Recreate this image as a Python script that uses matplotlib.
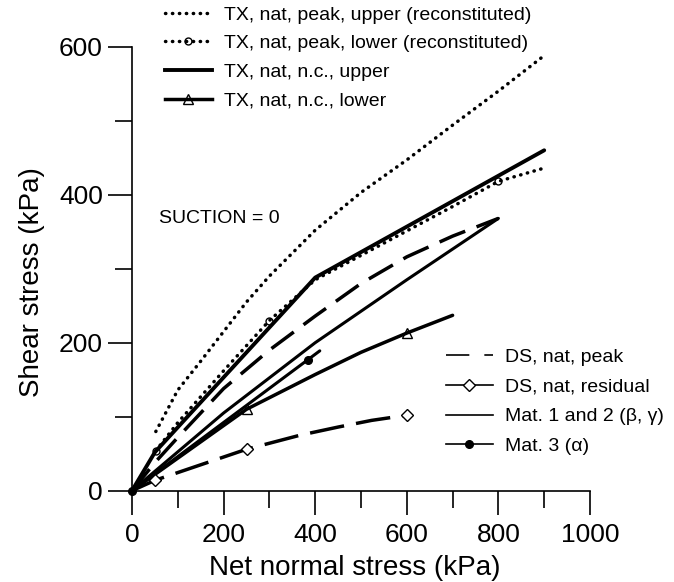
import matplotlib
matplotlib.use("Agg")
import matplotlib.pyplot as plt
from matplotlib.lines import Line2D
from matplotlib.ticker import MultipleLocator

plt.rcParams['font.family'] = ['Liberation Sans', 'DejaVu Sans']

# Shear strength envelopes, suction = 0 (net normal stress / shear stress, kPa)
tx_peak_up_x = [52, 100, 150, 200, 250, 300, 400, 500, 600, 700, 800, 900]
tx_peak_up_y = [80, 136, 175, 215, 255, 290, 352, 403, 447, 494, 540, 588]

tx_peak_lo_x = [52, 100, 200, 300, 400, 500, 600, 700, 800, 900]
tx_peak_lo_y = [54, 92, 162, 230, 285, 318, 351, 384, 418, 436]

tx_nc_up_x = [0, 50, 400, 900]
tx_nc_up_y = [0, 52, 288, 460]

tx_nc_lo_x = [0, 250, 400, 500, 600, 700]
tx_nc_lo_y = [0, 110, 157, 187, 213, 237]

ds_peak_x = [0, 50, 100, 200, 300, 400, 500, 600, 700, 800]
ds_peak_y = [0, 38, 72, 138, 190, 236, 280, 316, 344, 368]

ds_res_x = [0, 50, 250, 367, 450, 523, 600]
ds_res_y = [0, 14, 56, 75, 86, 95, 102]

mat12_x = [0, 200, 400, 600, 800]
mat12_y = [0, 105, 200, 285, 368]

mat3_x = [0, 384, 410]
mat3_y = [0, 177, 189]

top_labels = ["TX, nat, peak, upper (reconstituted)",
              "TX, nat, peak, lower (reconstituted)",
              "TX, nat, n.c., upper",
              "TX, nat, n.c., lower"]
bottom_labels = ["DS, nat, peak",
                 "DS, nat, residual",
                 "Mat. 1 and 2 (\u03b2, \u03b3)",
                 "Mat. 3 (\u03b1)"]

W, H = 674, 582
fig = plt.figure(figsize=(W / 100, H / 100), dpi=100)
ax = fig.add_axes([132 / W, 1 - 490.7 / H, 458 / W, 444 / H])

dot = (0, (0.1, 1.9))
lw = 2.5
common = dict(color='black', clip_on=False, solid_capstyle='round')

ax.plot(tx_peak_up_x, tx_peak_up_y, lw=lw, linestyle=dot,
        dash_capstyle='round', **common)
ax.plot(tx_peak_lo_x, tx_peak_lo_y, lw=lw, linestyle=dot,
        dash_capstyle='round', marker='o', ms=5, mfc='none', mew=1.0,
        markevery=[0, 3, 8], **common)
ax.plot(tx_nc_up_x, tx_nc_up_y, lw=2.8, **common)
ax.plot(tx_nc_lo_x, tx_nc_lo_y, lw=2.5, marker='^', ms=7, mfc='none',
        mew=1.0, markevery=[1, 4], **common)
ax.plot(ds_peak_x, ds_peak_y, lw=2.5, linestyle=(0, (8, 3.5)), **common)
ax.plot(ds_res_x, ds_res_y, lw=2.5, linestyle=(0, (10, 3.5)), **common)
ax.plot(ds_res_x[1:3] + [ds_res_x[-1]], ds_res_y[1:3] + [ds_res_y[-1]],
        linestyle='none', marker='D', ms=6.5, mfc='white', mec='black',
        mew=1.0, clip_on=False)
ax.plot(mat12_x, mat12_y, lw=2.2, **common)
ax.plot(mat3_x, mat3_y, lw=2.2, marker='o', ms=5.5, markevery=[0, 1],
        **common)

ax.text(60, 368, "SUCTION = 0", fontsize=14, va='center', ha='left')

# Axes styling
ax.set_xlim(0, 1000)
ax.set_ylim(0, 600)
for s in ['top', 'right']:
    ax.spines[s].set_visible(False)
for s in ['left', 'bottom']:
    ax.spines[s].set_linewidth(1.2)
ax.xaxis.set_major_locator(MultipleLocator(200))
ax.xaxis.set_minor_locator(MultipleLocator(100))
ax.yaxis.set_major_locator(MultipleLocator(200))
ax.yaxis.set_minor_locator(MultipleLocator(100))
ax.tick_params(which='major', length=17, width=1.2, labelsize=19, pad=6)
ax.tick_params(axis='y', which='major', pad=4)
ax.tick_params(which='minor', length=12, width=1.2)
ax.set_xlabel("Net normal stress (kPa)", fontsize=20)
ax.set_ylabel("Shear stress (kPa)", fontsize=20)
ax.xaxis.set_label_coords(0.487, -0.145)
ax.yaxis.set_label_coords(-0.19, 0.47)

# Legends
top_handles = [
    Line2D([], [], color='black', lw=2.5, linestyle=dot, dash_capstyle='round'),
    Line2D([], [], color='black', lw=2.5, linestyle=dot, dash_capstyle='round',
           marker='o', ms=5, mfc='none', mew=1.0),
    Line2D([], [], color='black', lw=2.8),
    Line2D([], [], color='black', lw=2.5, marker='^', ms=7, mfc='none',
           mew=1.0),
]
leg1 = fig.legend(top_handles, top_labels, loc='upper left',
                  bbox_to_anchor=(165 / W, 1 - 6 / H), frameon=False,
                  fontsize=14, handlelength=2.4, handletextpad=0.65,
                  labelspacing=0.57, borderpad=0, borderaxespad=0)

bottom_handles = [
    Line2D([], [], color='black', lw=1.2, linestyle=(0, (14, 9))),
    Line2D([], [], color='black', lw=1.2, marker='D', ms=6.5, mfc='white',
           mew=1.0),
    Line2D([], [], color='black', lw=1.2),
    Line2D([], [], color='black', lw=1.2, marker='o', ms=5.5),
]
leg2 = fig.legend(bottom_handles, bottom_labels, loc='upper left',
                  bbox_to_anchor=(446 / W, 1 - 348 / H), frameon=False,
                  fontsize=14, handlelength=2.4, handletextpad=0.65,
                  labelspacing=0.63, borderpad=0, borderaxespad=0)

fig.savefig("out.png", dpi=100)
